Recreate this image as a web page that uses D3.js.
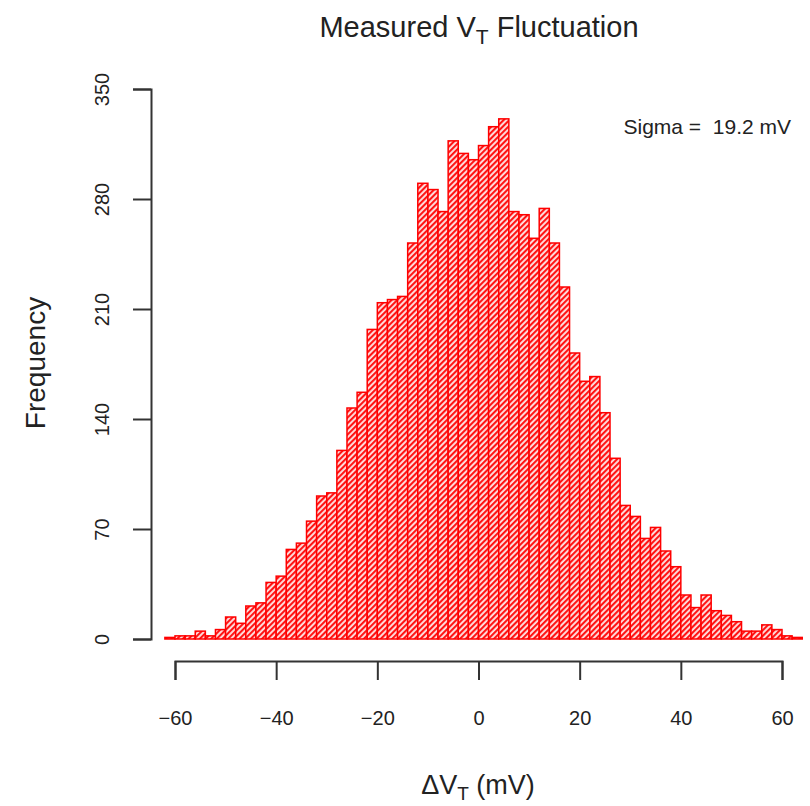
<!DOCTYPE html>
<html>
<head>
<meta charset="utf-8">
<script src="https://cdn.jsdelivr.net/npm/d3@7"></script>
<style>
  body { margin: 0; background: #fff; }
  svg { display: block; font-family: "Liberation Sans", Arial, Helvetica, sans-serif; }
</style>
</head>
<body>
<svg id="chart" width="810" height="806"></svg>
<script>
"use strict";

// lower edge of every 2 mV bin
var binStarts = [-62, -60, -58, -56, -54, -52, -50, -48, -46, -44, -42, -40, -38, -36, -34, -32, -30, -28, -26, -24, -22,
                 -20, -18, -16, -14, -12, -10, -8, -6, -4, -2, 0, 2, 4, 6, 8, 10, 12, 14, 16, 18, 20,
                 22, 24, 26, 28, 30, 32, 34, 36, 38, 40, 42, 44, 46, 48, 50, 52, 54, 56, 58, 60, 62];
var counts = [1, 2, 2, 5, 2, 6, 14, 10, 21, 23, 36, 40, 57, 61, 75, 91, 93, 120, 147, 157, 197,
              214, 216, 218, 252, 290, 286, 272, 317, 309, 305, 314, 326, 331, 272, 270, 255, 274, 252, 224, 182, 164,
              167, 144, 115, 85, 78, 64, 71, 56, 46, 28, 20, 28, 18, 15, 11, 5, 5, 9, 6, 2, 1];
var binWidth = 2;
var xTicks = [-60, -40, -20, 0, 20, 40, 60];
var yTicks = [0, 70, 140, 210, 280, 350];
var sigmaText = "Sigma =  19.2 mV";

var svg = d3.select("#chart");

var x = d3.scaleLinear().domain([-60, 60]).range([175, 782]);
var y = d3.scaleLinear().domain([0, 350]).range([639, 89]);

// hatch fill like R's shaded bars
var defs = svg.append("defs");
var pat = defs.append("pattern")
  .attr("id", "hatch")
  .attr("patternUnits", "userSpaceOnUse")
  .attr("width", 4)
  .attr("height", 4)
  .attr("patternTransform", "rotate(45)");
pat.append("rect")
  .attr("width", 4).attr("height", 4)
  .attr("fill", "#ffe2e2");
pat.append("rect")
  .attr("width", 2.1).attr("height", 4)
  .attr("fill", "#ff1414");

var bins = binStarts.map(function (b, i) {
  return { x0: b, x1: b + binWidth, n: counts[i] };
});

svg.append("g")
  .selectAll("rect")
  .data(bins)
  .enter()
  .append("rect")
    .attr("x", function (d) { return x(d.x0); })
    .attr("y", function (d) { return y(d.n); })
    .attr("width", function (d) { return x(d.x1) - x(d.x0); })
    .attr("height", function (d) { return y(0) - y(d.n); })
    .attr("fill", "url(#hatch)")
    .attr("stroke", "#ff0000")
    .attr("stroke-width", 1.5);

// axes, R style (detached from the plot region)
var xAxis = svg.append("g")
  .attr("transform", "translate(0,661)")
  .call(d3.axisBottom(x).tickValues(xTicks).tickSize(19).tickSizeOuter(19).tickFormat(d3.format("d")));

var yAxis = svg.append("g")
  .attr("transform", "translate(151,0)")
  .call(d3.axisLeft(y).tickValues(yTicks).tickSize(18).tickSizeOuter(18).tickFormat(d3.format("d")));

[xAxis, yAxis].forEach(function (g) {
  g.select(".domain").attr("stroke", "#333").attr("stroke-width", 2);
  g.selectAll(".tick line").attr("stroke", "#333").attr("stroke-width", 2);
  g.selectAll(".tick text").attr("fill", "#222").attr("font-size", 20);
});

xAxis.selectAll(".tick text")
  .attr("y", 57)
  .attr("dy", "0.35em")
  .text(function (d) { return d < 0 ? "\u2212" + Math.abs(d) : d; });

yAxis.selectAll(".tick text")
  .attr("transform", "rotate(-90)")
  .attr("x", 0)
  .attr("y", -49)
  .attr("dy", "0.35em")
  .attr("text-anchor", "middle");

// title
var title = svg.append("text")
  .attr("x", 479)
  .attr("y", 37)
  .attr("text-anchor", "middle")
  .attr("font-size", 29)
  .attr("fill", "#222");
title.append("tspan").text("Measured V");
title.append("tspan").attr("font-size", 21).attr("dy", 7).text("T");
title.append("tspan").attr("dy", -7).text(" Fluctuation");

// axis labels
var xLabel = svg.append("text")
  .attr("x", 478)
  .attr("y", 794)
  .attr("text-anchor", "middle")
  .attr("font-size", 27)
  .attr("fill", "#222");
xLabel.append("tspan").text("\u0394V");
xLabel.append("tspan").attr("font-size", 19).attr("dy", 6).text("T");
xLabel.append("tspan").attr("dy", -6).text(" (mV)");

svg.append("text")
  .attr("transform", "translate(35,363) rotate(-90)")
  .attr("text-anchor", "middle")
  .attr("dy", "0.35em")
  .attr("font-size", 28)
  .attr("fill", "#222")
  .text("Frequency");

svg.append("text")
  .attr("x", 791)
  .attr("y", 134)
  .attr("text-anchor", "end")
  .attr("font-size", 21)
  .attr("fill", "#222")
  .style("white-space", "pre")
  .text(sigmaText);
</script>
</body>
</html>
